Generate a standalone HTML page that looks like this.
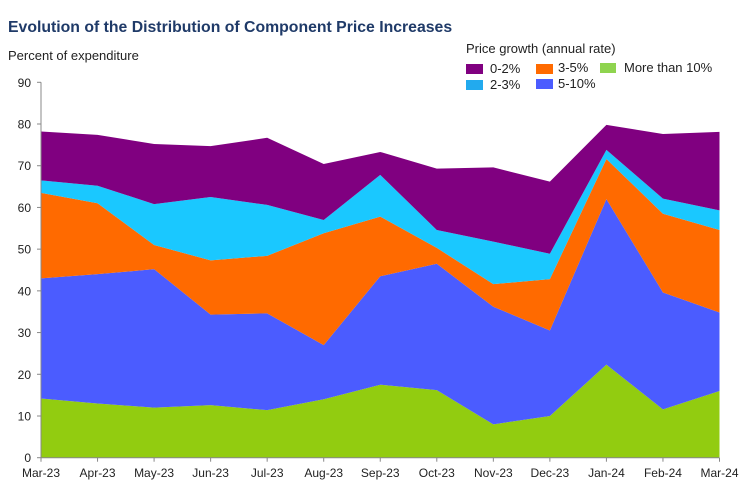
<!DOCTYPE html>
<html><head><meta charset="utf-8"><style>
body{margin:0;background:#fff;font-family:"Liberation Sans",sans-serif}
svg text{font-family:"Liberation Sans",sans-serif}
</style></head><body>
<svg id="c" width="747" height="497">
<text x="8" y="32" font-size="15.8" font-weight="bold" fill="#1f3a68">Evolution of the Distribution of Component Price Increases</text>
<text x="8" y="60" font-size="13" fill="#222">Percent of expenditure</text>
<g>
<text x="466" y="53" font-size="13" fill="#222">Price growth (annual rate)</text>
<rect x="466" y="64" width="17" height="10" fill="#800080"/>
<text x="490" y="73" font-size="13" fill="#222">0-2%</text>
<rect x="466" y="80" width="17" height="10" fill="#22aaee"/>
<text x="490" y="89" font-size="13" fill="#222">2-3%</text>
<rect x="536" y="64" width="17" height="10" fill="#ff6a00"/>
<text x="558" y="72" font-size="13" fill="#222">3-5%</text>
<rect x="536" y="79" width="17" height="10" fill="#4b5cff"/>
<text x="558" y="88" font-size="13" fill="#222">5-10%</text>
<rect x="600" y="63" width="16" height="10" fill="#8fd44f"/>
<text x="624" y="72" font-size="13" fill="#222">More than 10%</text>
</g>
<g id="areas"></g>
<g id="axes"></g>
</svg>
<script>
const categories=["Mar-23","Apr-23","May-23","Jun-23","Jul-23","Aug-23","Sep-23","Oct-23","Nov-23","Dec-23","Jan-24","Feb-24","Mar-24"];
const over10=[14.2,13,12,12.6,11.4,14,17.5,16.2,8,10,22.3,11.6,16];
const p5to10=[28.8,31,33.2,21.7,23.2,13,26,30.3,28.2,20.5,39.7,28,18.8];
const p3to5=[20.5,17,5.8,13,13.8,26.8,14.3,3.8,5.4,12.3,9.6,18.9,19.8];
const p2to3=[3,4.2,9.8,15.2,12.2,3.2,10,4.3,10.2,6.1,2.2,3.6,4.7];
const p0to2=[11.7,12.2,14.4,12.2,16.1,13.4,5.5,14.7,17.8,17.3,6,15.5,18.8];
const yTicks=[0,10,20,30,40,50,60,70,80,90];
const NS="http://www.w3.org/2000/svg";
const x0=41,x1=719.5,yb=457.7,yt=82.3,ymax=90;
const xs=i=>x0+(x1-x0)*i/(categories.length-1);
const ys=v=>yb-(yb-yt)*v/ymax;
const series=[["area-over-10",over10,"#92cc10"],["area-5-10",p5to10,"#4b5cff"],["area-3-5",p3to5,"#ff6a00"],["area-2-3",p2to3,"#1ac8ff"],["area-0-2",p0to2,"#800080"]];
const areas=document.getElementById("areas");
let base=categories.map(()=>0);
series.forEach(([name,vals,col])=>{
  const top=base.map((b,i)=>b+vals[i]);
  let d="M"+top.map((v,i)=>xs(i)+","+ys(v)).join("L");
  for(let i=base.length-1;i>=0;i--)d+="L"+xs(i)+","+ys(base[i]);
  const p=document.createElementNS(NS,"path");
  p.setAttribute("d",d+"Z");p.setAttribute("fill",col);
  
  
  areas.appendChild(p);
  base=top;
});
const ax=document.getElementById("axes");
function el(t,a,txt){const e=document.createElementNS(NS,t);for(const k in a)e.setAttribute(k,a[k]);if(txt!==undefined)e.textContent=txt;ax.appendChild(e);return e;}
let e=el("line",{x1:x0,y1:yt,x2:x0,y2:yb,stroke:"#888"});


e=el("line",{x1:x0,y1:yb,x2:x1,y2:yb,stroke:"#888"});


yTicks.forEach(t=>{
  el("line",{x1:x0-4,y1:ys(t),x2:x0,y2:ys(t),stroke:"#888"});
  const tx=el("text",{x:31,y:ys(t)+4.5,"font-size":"12","text-anchor":"end",fill:"#222"},t);
  
  
});
categories.forEach((c,i)=>{
  el("line",{x1:xs(i),y1:yb,x2:xs(i),y2:yb+4,stroke:"#888"});
  const tx=el("text",{x:xs(i),y:477,"font-size":"12","text-anchor":"middle",fill:"#222"},c);
  
  
});
</script>
</body></html>
